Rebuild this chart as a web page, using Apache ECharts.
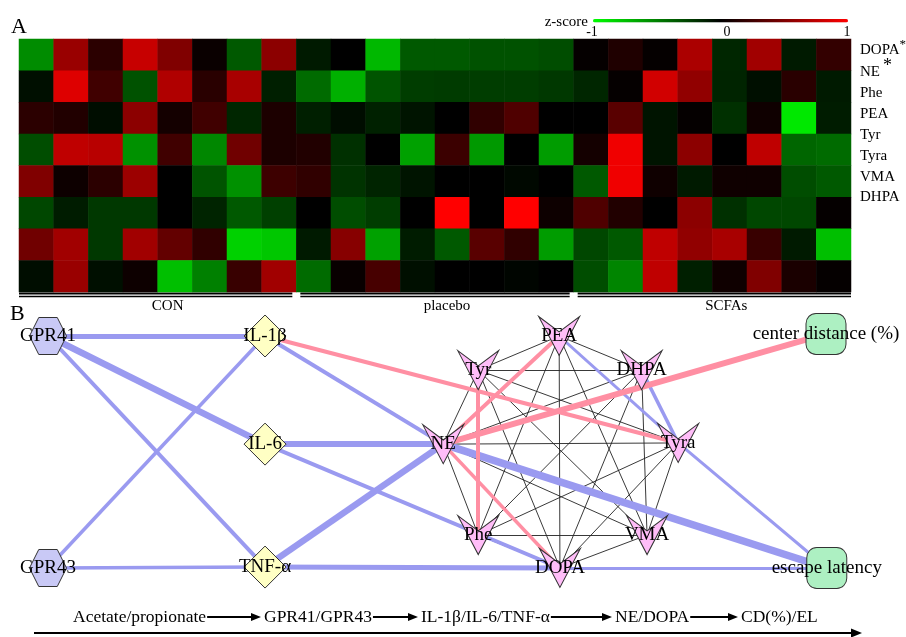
<!DOCTYPE html>
<html>
<head>
<meta charset="utf-8">
<script src="https://cdn.jsdelivr.net/npm/echarts@6/dist/echarts.min.js"></script>
<style>
  html, body { margin: 0; padding: 0; background: #fff; }
  #main { width: 906px; height: 637px; }
</style>
</head>
<body>
<div id="main"></div>
<script>
// ---------- panel A : heatmap data ----------
var metabolites = ['DOPA', 'NE', 'Phe', 'PEA', 'Tyr', 'Tyra', 'VMA', 'DHPA'];
var starred = [true, true, false, false, false, false, false, false];
var groups = ['CON', 'placebo', 'SCFAs'];
var perGroup = 8;
var samples = [];
for (var s = 0; s < groups.length * perGroup; s++) samples.push('S' + (s + 1));

// z-score per heatmap row (top to bottom), 24 samples each
var zRow1 = [-0.55, 0.6, 0.17, 0.78, 0.5, 0.04, -0.35, 0.55, -0.1, 0, -0.72, -0.35, -0.35, -0.32, -0.32, -0.3, 0.02, 0.12, 0.02, 0.67, -0.15, 0.63, -0.1, 0.2];
var zRow2 = [-0.06, 0.87, 0.25, -0.32, 0.69, 0.16, 0.66, -0.12, -0.42, -0.69, -0.33, -0.24, -0.23, -0.24, -0.24, -0.22, -0.15, 0.02, 0.82, 0.57, -0.14, -0.06, 0.16, -0.1];
var zRow3 = [0.17, 0.13, -0.05, 0.55, 0.08, 0.25, -0.15, 0.11, -0.12, -0.05, -0.13, -0.08, 0, 0.19, 0.31, 0, 0, 0.35, -0.08, 0.02, -0.19, 0.06, -0.91, -0.11];
var zRow4 = [-0.3, 0.75, 0.72, -0.57, 0.25, -0.53, 0.44, 0.11, 0.13, -0.19, 0, -0.63, 0.23, -0.6, 0, -0.61, 0.08, 0.94, -0.08, 0.55, 0, 0.75, -0.4, -0.42];
var zRow5 = [0.5, 0.05, 0.17, 0.61, 0, -0.33, -0.57, 0.24, 0.19, -0.2, -0.14, -0.08, 0, 0, -0.03, 0, -0.35, 0.94, 0.06, -0.1, 0.06, 0.06, -0.3, -0.35];
var zRow6 = [-0.28, -0.11, -0.22, -0.22, 0, -0.14, -0.35, -0.25, 0, -0.3, -0.24, 0, 1, 0, 1, 0.05, 0.31, 0.13, 0, 0.55, -0.19, -0.28, -0.28, 0.02];
var zRow7 = [0.44, 0.63, -0.22, 0.63, 0.39, 0.19, -0.82, -0.78, -0.1, 0.53, -0.63, -0.11, -0.35, 0.35, 0.19, -0.61, -0.28, -0.35, 0.75, 0.57, 0.66, 0.22, -0.1, -0.75];
var zRow8 = [-0.05, 0.6, -0.06, 0.05, -0.75, -0.5, 0.22, 0.63, -0.42, 0.03, 0.28, -0.06, 0, 0, -0.02, 0, -0.3, -0.52, 0.75, -0.12, 0.06, 0.5, 0.1, 0.02];
var zRows = [zRow1, zRow2, zRow3, zRow4, zRow5, zRow6, zRow7, zRow8];
var zTicks = ['-1', '0', '1'];

// ---------- panel B : network data ----------
var nodeNames = ['GPR41', 'GPR43', 'IL-1β', 'IL-6', 'TNF-α', 'NE', 'Tyr', 'PEA', 'DHPA', 'Tyra', 'VMA', 'DOPA', 'Phe', 'center distance (%)', 'escape latency'];
var nodeType  = ['receptor', 'receptor', 'cytokine', 'cytokine', 'cytokine', 'metab', 'metab', 'metab', 'metab', 'metab', 'metab', 'metab', 'metab', 'behav', 'behav'];
// layout units (0..100 across, 0..100 down)
var nodeX = [0, 0, 27.9, 27.9, 27.9, 50.8, 55.3, 65.7, 76.3, 81.0, 77.0, 65.8, 55.3, 100, 100.1];
var nodeY = [0, 100, 0, 46.6, 99.6, 46.6, 14.7, 0, 14.7, 46.1, 85.8, 100, 85.8, -0.9, 100];
var circleNodes = ['PEA', 'DHPA', 'Tyra', 'VMA', 'DOPA', 'Phe', 'NE', 'Tyr'];

// [source, target, width]
var posLinks = [
  ['GPR41', 'IL-1β', 5], ['GPR41', 'IL-6', 6.5], ['GPR41', 'TNF-α', 4],
  ['GPR43', 'IL-1β', 3.5], ['GPR43', 'TNF-α', 3.5],
  ['IL-1β', 'NE', 4], ['IL-6', 'NE', 6], ['IL-6', 'DOPA', 4],
  ['TNF-α', 'NE', 6.5], ['TNF-α', 'DOPA', 5],
  ['NE', 'escape latency', 7.5], ['DOPA', 'escape latency', 3], ['Tyra', 'escape latency', 3],
  ['PEA', 'Tyra', 3], ['DHPA', 'Tyra', 3.5]
];
var negLinks = [
  ['IL-1β', 'Tyra', 4], ['NE', 'center distance (%)', 6], ['NE', 'PEA', 4],
  ['NE', 'DOPA', 3.5], ['Tyr', 'Phe', 4]
];
var flowSteps = ['Acetate/propionate', 'GPR41/GPR43', 'IL-1β/IL-6/TNF-α', 'NE/DOPA', 'CD(%)/EL'];

// ---------- build ----------
var serif = 'Liberation Serif';
var blue = '#9a9af0', pink = '#ff8fa3';

var heatData = [];
zRows.forEach(function (row, r) {
  row.forEach(function (v, c) { heatData.push([c, r, v]); });
});

var symbols = {
  receptor: { symbol: 'path://M9,0 L27,0 L36,18 L27,36 L9,36 L0,18 Z', size: [37, 37], color: '#c9c9f6' },
  cytokine: { symbol: 'diamond', size: [42, 42], color: '#ffffc4' },
  metab:    { symbol: 'path://M0,0 L20,15 L40,0 L20,38 Z', size: [41, 39], color: '#ffbdf8' },
  behav:    { symbol: 'roundRect', size: [40, 41], color: '#adf0c2' }
};
var nodes = nodeNames.map(function (n, i) {
  var t = symbols[nodeType[i]];
  return {
    name: n, value: [nodeX[i], nodeY[i]],
    symbol: t.symbol, symbolSize: t.size,
    itemStyle: { color: t.color, borderColor: '#333', borderWidth: 1 }
  };
});

var links = [];
// thin black edges between every pair of metabolites
for (var i = 0; i < circleNodes.length; i++) {
  for (var j = i + 1; j < circleNodes.length; j++) {
    links.push({ source: circleNodes[i], target: circleNodes[j], lineStyle: { color: '#222', width: 0.9 } });
  }
}
posLinks.forEach(function (l) { links.push({ source: l[0], target: l[1], lineStyle: { color: blue, width: l[2] } }); });
negLinks.forEach(function (l) { links.push({ source: l[0], target: l[1], lineStyle: { color: pink, width: l[2] } }); });

// heatmap grid geometry
var hmLeft = 19, hmTop = 39, hmW = 832, hmH = 253;
var cellW = hmW / samples.length;

var graphics = [];
function txt(x, y, s, size, align) {
  graphics.push({ type: 'text', x: x, y: y, style: {
    text: s, fill: '#000', font: size + 'px "' + serif + '"', textAlign: align || 'left', textVerticalAlign: 'middle' } });
}
function line(x1, y1, x2, y2, w) {
  graphics.push({ type: 'line', shape: { x1: x1, y1: y1, x2: x2, y2: y2 }, style: { stroke: '#000', lineWidth: w } });
}
function arrow(x1, x2, y, w, head) {
  line(x1, y, x2 - head, y, w);
  graphics.push({ type: 'polygon', shape: { points: [[x2 - head - 1, y - head / 2.2], [x2, y], [x2 - head - 1, y + head / 2.2]] }, style: { fill: '#000' } });
}
var measureCtx = document.createElement('canvas').getContext('2d');
function textWidth(s, size) {
  measureCtx.font = size + 'px "' + serif + '"';
  return measureCtx.measureText(s).width;
}

txt(11, 27, 'A', 22);
txt(10, 314, 'B', 22);

// colour bar labels
txt(588, 22, 'z-score', 15, 'right');
txt(592, 32, zTicks[0], 14, 'center');
txt(727, 32, zTicks[1], 14, 'center');
txt(847, 32, zTicks[2], 14, 'center');

// row labels (not aligned to rows in the original figure)
var labelY = [50, 72, 93, 114, 135, 156, 177, 197];
var starDy = [-5, -6], starSize = [13, 18], starGap = [0, 3];
metabolites.forEach(function (m, k) {
  txt(860, labelY[k], m, 15);
  if (starred[k]) txt(860 + textWidth(m, 15) + starGap[k], labelY[k] + starDy[k], '*', starSize[k]);
});

// group brackets under heatmap
groups.forEach(function (g, k) {
  var x1 = hmLeft + k * perGroup * cellW + (k > 0 ? 4 : 0);
  var x2 = hmLeft + (k + 1) * perGroup * cellW - (k < groups.length - 1 ? 4 : 0);
  line(x1, 293.5, x2, 293.5, 2);
  line(x1, 296.5, x2, 296.5, 1.5);
  txt((x1 + x2) / 2 + 12, 306, g, 15, 'center');
});

// flow line at bottom
var flowX = [73, 264, 421, 615, 741];
var flowSize = 17.5;
flowSteps.forEach(function (s, k) {
  txt(flowX[k], 617, s, flowSize);
  if (k < flowSteps.length - 1) {
    arrow(flowX[k] + textWidth(s, flowSize) + 1, flowX[k + 1] - 3, 617, 1.8, 9);
  }
});
arrow(34, 862, 633, 2.2, 10);

var option = {
  animation: false,
  backgroundColor: '#fff',
  grid: [
    { left: hmLeft, top: hmTop, width: hmW, height: hmH },
    { left: 48, top: 336, width: 778, height: 232 }
  ],
  xAxis: [
    { type: 'category', data: samples, gridIndex: 0, show: false },
    { type: 'value', min: 0, max: 100, gridIndex: 1, show: false, splitLine: { show: false } }
  ],
  yAxis: [
    { type: 'category', data: metabolites, gridIndex: 0, inverse: true, show: false },
    { type: 'value', min: 0, max: 100, gridIndex: 1, inverse: true, show: false, splitLine: { show: false } }
  ],
  visualMap: {
    type: 'continuous', min: -1, max: 1, seriesIndex: 0,
    orient: 'horizontal', left: 593, top: 19, itemWidth: 3.5, itemHeight: 255,
    padding: 0, calculable: false, hoverLink: false, text: null,
    inRange: { color: ['#00ff00', '#000000', '#ff0000'] }
  },
  series: [
    {
      type: 'heatmap', xAxisIndex: 0, yAxisIndex: 0, data: heatData,
      itemStyle: { borderWidth: 0 }, emphasis: { disabled: true }
    },
    {
      type: 'graph', coordinateSystem: 'cartesian2d', xAxisIndex: 1, yAxisIndex: 1,
      layout: 'none', data: nodes, links: links,
      lineStyle: { opacity: 1, curveness: 0 },
      label: { show: true, position: 'inside', color: '#000', fontSize: 19, fontFamily: serif },
      emphasis: { disabled: true }
    }
  ],
  graphic: graphics
};

var chart = echarts.init(document.getElementById('main'), null, { renderer: 'canvas' });
chart.setOption(option);
</script>
</body>
</html>
